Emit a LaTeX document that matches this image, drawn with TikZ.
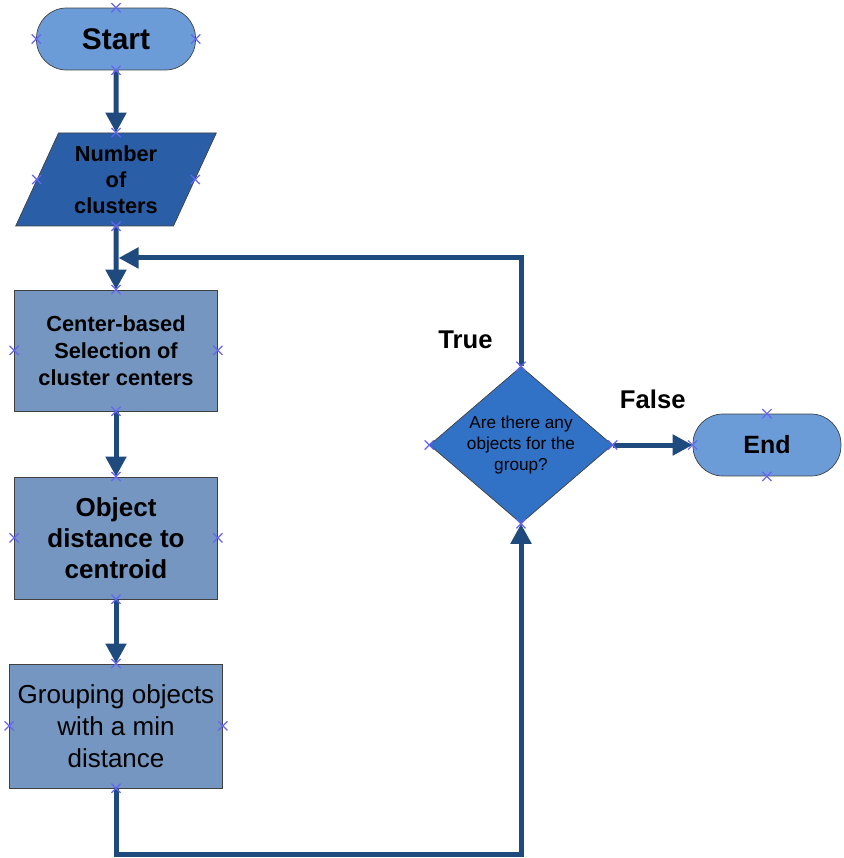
\documentclass[tikz,border=0pt]{standalone}
\usepackage{fontspec}
\setmainfont{Liberation Sans}
\usepackage{tikz}
\usetikzlibrary{shapes,arrows,arrows.meta,positioning,calc}
\definecolor{termblue}{RGB}{108,156,216}
\definecolor{inblue}{RGB}{42,94,166}
\definecolor{procblue}{RGB}{116,150,192}
\definecolor{decblue}{RGB}{50,114,198}
\definecolor{flowline}{RGB}{31,74,126}
\definecolor{ptblue}{RGB}{100,100,245}
\tikzstyle{terminal} = [draw=black!75, fill=termblue, rectangle, rounded corners=0.6cm, minimum height=1.24cm]
\tikzstyle{io} = [draw=black!75, fill=inblue, trapezium, trapezium left angle=66, trapezium right angle=114, trapezium stretches=true, minimum width=4.04cm, minimum height=1.86cm, align=center]
\tikzstyle{block} = [draw=black!75, fill=procblue, rectangle, minimum width=4.06cm, minimum height=2.42cm, align=center]
\tikzstyle{decision} = [draw=black!75, fill=decblue, diamond, aspect=1.17, inner sep=0pt, minimum width=3.66cm, minimum height=3.14cm, align=center, font=\fontsize{9.8}{12}\selectfont]
\tikzstyle{flow} = [draw=flowline, line width=1mm]
\tikzstyle{branch} = [font=\fontsize{14.6}{17}\selectfont\bfseries]
\tikzstyle{cpt} = [draw=ptblue, cross out, minimum size=4.5pt, inner sep=0pt, line width=0.7pt]

\begin{document}
\begin{tikzpicture}[x=0.02cm, y=-0.02cm, node distance=3cm, >={Triangle[length=4mm,width=4mm]}]
    \useasboundingbox (0,0) rectangle (843,858);
    % Nodes
    \node [terminal, minimum width=3.18cm, font=\fontsize{17}{20}\selectfont\bfseries] (start) at (116,39) {Start};
    \node [io, below of=start, node distance=2.81cm, font=\fontsize{12.4}{14.8}\selectfont\bfseries] (num) {Number\\of\\clusters};
    \node [block, below of=num, node distance=3.42cm, font=\fontsize{12.4}{15.4}\selectfont\bfseries] (select) {Center-based\\Selection of\\cluster centers};
    \node [block, below of=select, node distance=3.75cm, minimum height=2.44cm, font=\fontsize{14.8}{17.6}\selectfont\bfseries] (dist) {Object\\distance to\\centroid};
    \node [block, below of=dist, node distance=3.76cm, minimum width=4.26cm, minimum height=2.48cm, font=\fontsize{14.8}{18.2}\selectfont] (group) {Grouping objects\\with a min\\distance};
    \node [decision] (check) at (521,445) {Are there any\\objects for the\\group?};
    \node [terminal, right of=check, node distance=4.92cm, minimum width=2.96cm, font=\fontsize{14.2}{17}\selectfont\bfseries] (end) {End};
    \coordinate (merge) at ($(num.south)!0.5!(select.north)$);

    % Connections
    \draw [flow, ->] (start) -- (num);
    \draw [flow, ->] (num) -- (select);
    \draw [flow, ->] (select) -- (dist);
    \draw [flow, ->] (dist) -- (group);
    \draw [flow, ->] (group.south) -- ++(0,66) -| (check.south);
    \draw [flow, ->] (check.north) |- node [branch, pos=0.12, left=4mm] {True} ([xshift=0.5mm]merge);
    \draw [flow, ->] (check) -- node [branch, above=5.5mm] {False} (end);

    % Connection points
    \foreach \n in {start,num,select,dist,group,check}
        \foreach \a in {north,south,east,west}
            \node [cpt] at (\n.\a) {};
    \foreach \a in {north,south,west}
        \node [cpt] at (end.\a) {};
\end{tikzpicture}
\end{document}
